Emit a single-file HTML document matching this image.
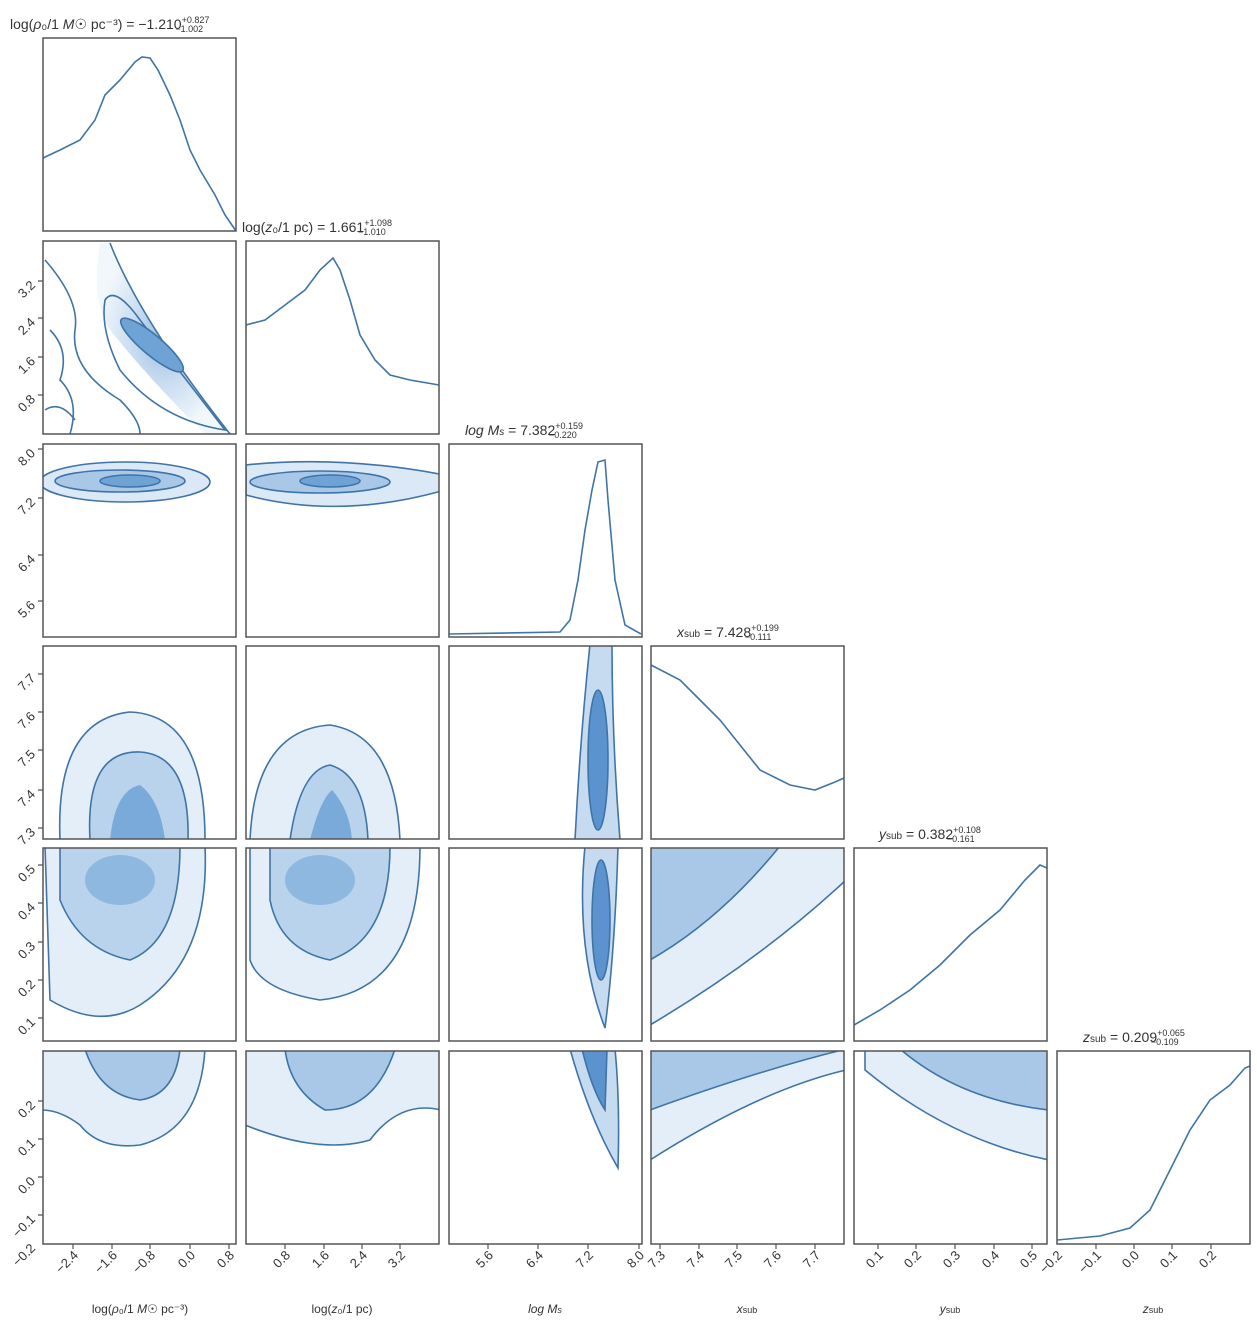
<!DOCTYPE html>
<html><head><meta charset="utf-8"><style>
body{margin:0;background:#fff}
svg{display:block}
text{font-family:"Liberation Sans",sans-serif;fill:#333}
</style></head><body>
<svg width="1257" height="1333" viewBox="0 0 1257 1333" xmlns="http://www.w3.org/2000/svg">
<defs>
<radialGradient id="g" cx="50%" cy="50%" r="50%"><stop offset="0" stop-color="#5b93cf"/><stop offset="0.5" stop-color="#a9c8e8"/><stop offset="1" stop-color="#eaf2fa"/></radialGradient>
<clipPath id="cp">
<rect x="43" y="241" width="193" height="193"/>
<rect x="43" y="444" width="193" height="193"/><rect x="246" y="444" width="193" height="193"/>
<rect x="43" y="646" width="193" height="193"/><rect x="246" y="646" width="193" height="193"/><rect x="449" y="646" width="193" height="193"/>
<rect x="43" y="848" width="193" height="193"/><rect x="246" y="848" width="193" height="193"/><rect x="449" y="848" width="193" height="193"/><rect x="651" y="848" width="193" height="193"/>
<rect x="43" y="1051" width="193" height="193"/><rect x="246" y="1051" width="193" height="193"/><rect x="449" y="1051" width="193" height="193"/><rect x="651" y="1051" width="193" height="193"/><rect x="854" y="1051" width="193" height="193"/>
</clipPath>
</defs>
<g fill="none" stroke="#3f74a8" stroke-width="1.6">
<path d="M43,158 L60,150 L80,140 L95,120 L105,95 L120,80 L135,62 L142,57 L150,58 L158,70 L170,95 L180,120 L190,150 L200,170 L215,195 L225,215 L236,231"/>
<path d="M246,325 L265,320 L285,305 L305,290 L320,270 L333,258 L340,270 L350,300 L360,335 L375,360 L390,375 L410,380 L439,385"/>
<path d="M449,634 L560,632 L570,620 L578,580 L585,530 L592,490 L598,462 L605,460 L608,500 L615,580 L625,625 L641,634"/>
<path d="M651,665 L680,680 L700,700 L720,720 L740,745 L760,770 L790,785 L815,790 L835,782 L844,778"/>
<path d="M854,1025 L880,1010 L910,990 L940,965 L970,935 L1000,910 L1025,880 L1040,865 L1047,868"/>
<path d="M1057,1240 L1100,1236 L1130,1228 L1150,1210 L1170,1170 L1190,1130 L1210,1100 L1230,1085 L1245,1068 L1250,1066"/>
</g>
<g stroke="#3f74a8" stroke-width="1.6" clip-path="url(#cp)">
<path d="M110,243 Q140,320 230,434 L205,434 Q150,380 110,330 Q90,300 100,243 Z" fill="url(#g)" opacity="0.6" stroke="none"/>
<path d="M110,243 Q140,320 230,434" fill="none"/>
<path d="M45,260 Q80,300 75,330 Q70,370 120,400 Q140,420 140,434" fill="none"/>
<path d="M105,300 Q115,285 140,320 L225,430 Q160,420 120,370 Q100,330 105,300 Z" fill="none"/>
<ellipse cx="152" cy="345" rx="40" ry="10" transform="rotate(40 152 345)" fill="#6fa3d6"/>
<path d="M50,330 Q70,350 60,380 Q80,400 70,434 M45,410 Q60,400 75,420" fill="none"/>
<ellipse cx="125" cy="482" rx="85" ry="20" fill="#dbe8f5"/>
<ellipse cx="120" cy="481" rx="65" ry="11" fill="#a9c8e8"/>
<ellipse cx="130" cy="481" rx="30" ry="6" fill="#6fa3d6"/>
<path d="M246,465 Q340,455 445,475 L445,490 Q340,520 246,495 Z" fill="#dbe8f5"/>
<ellipse cx="320" cy="482" rx="70" ry="11" fill="#a9c8e8"/>
<ellipse cx="330" cy="481" rx="30" ry="6" fill="#6fa3d6"/>
<path d="M60,840 Q55,720 130,712 Q205,715 205,840 Z" fill="#e3eef8"/>
<path d="M90,840 Q85,750 140,752 Q190,755 188,840 Z" fill="#b9d3ed"/>
<path d="M110,840 Q115,790 140,785 Q160,800 165,840 Z" fill="#7aaada" stroke="none"/>
<path d="M250,840 Q255,730 330,725 Q395,735 400,840 Z" fill="#e3eef8"/>
<path d="M290,840 Q300,770 330,765 Q365,775 368,840 Z" fill="#b9d3ed"/>
<path d="M310,840 Q320,800 332,790 Q350,810 352,840 Z" fill="#7aaada" stroke="none"/>
<path d="M590,644 Q580,740 575,840 L620,840 Q612,740 612,644 Z" fill="#c7dbf0"/>
<ellipse cx="598" cy="760" rx="10" ry="70" fill="#5b93cf"/>
<path d="M45,846 L205,846 Q210,960 140,1005 Q100,1030 50,1000 Z" fill="#e3eef8"/>
<path d="M60,846 L180,846 Q180,940 130,960 Q80,950 60,900 Z" fill="#b9d3ed"/>
<ellipse cx="120" cy="880" rx="35" ry="25" fill="#8fb8e0" stroke="none"/>
<path d="M250,846 L420,846 Q420,990 320,1000 Q260,990 250,960 Z" fill="#e3eef8"/>
<path d="M270,846 L390,846 Q390,940 330,960 Q280,950 270,900 Z" fill="#b9d3ed"/>
<ellipse cx="320" cy="880" rx="35" ry="25" fill="#8fb8e0" stroke="none"/>
<path d="M585,846 Q575,950 605,1028 Q615,950 618,846 Z" fill="#c7dbf0"/>
<ellipse cx="601" cy="920" rx="9" ry="60" fill="#5b93cf"/>
<path d="M650,846 L846,846 L846,880 Q760,960 650,1025 Z" fill="#e3eef8"/>
<path d="M650,846 L780,846 Q720,920 650,960 Z" fill="#a9c8e8"/>
<path d="M42,1049 L205,1049 Q200,1130 140,1145 Q100,1150 80,1125 Q60,1110 42,1110 Z" fill="#e3eef8"/>
<path d="M85,1049 L180,1049 Q175,1095 140,1100 Q100,1095 85,1049 Z" fill="#a9c8e8"/>
<path d="M245,1049 L441,1049 L441,1110 Q400,1100 370,1140 Q320,1155 245,1125 Z" fill="#e3eef8"/>
<path d="M285,1049 L395,1049 Q375,1110 325,1110 Q290,1090 285,1049 Z" fill="#a9c8e8"/>
<path d="M570,1049 Q590,1120 618,1168 Q620,1100 615,1049 Z" fill="#c7dbf0"/>
<path d="M582,1049 Q592,1090 605,1110 L607,1049 Z" fill="#5b93cf"/>
<path d="M650,1049 L846,1049 L846,1070 Q760,1090 650,1160 Z" fill="#e3eef8"/>
<path d="M650,1049 L846,1049 Q760,1070 650,1110 Z" fill="#a9c8e8"/>
<path d="M865,1049 L1049,1049 L1049,1160 Q950,1140 865,1070 Z" fill="#e3eef8"/>
<path d="M900,1049 L1049,1049 L1049,1110 Q960,1100 900,1049 Z" fill="#a9c8e8"/>
</g>
<g fill="none" stroke="#555" stroke-width="1.5">
<rect x="43" y="38" width="193" height="193"/>
<rect x="43" y="241" width="193" height="193"/><rect x="246" y="241" width="193" height="193"/>
<rect x="43" y="444" width="193" height="193"/><rect x="246" y="444" width="193" height="193"/><rect x="449" y="444" width="193" height="193"/>
<rect x="43" y="646" width="193" height="193"/><rect x="246" y="646" width="193" height="193"/><rect x="449" y="646" width="193" height="193"/><rect x="651" y="646" width="193" height="193"/>
<rect x="43" y="848" width="193" height="193"/><rect x="246" y="848" width="193" height="193"/><rect x="449" y="848" width="193" height="193"/><rect x="651" y="848" width="193" height="193"/><rect x="854" y="848" width="193" height="193"/>
<rect x="43" y="1051" width="193" height="193"/><rect x="246" y="1051" width="193" height="193"/><rect x="449" y="1051" width="193" height="193"/><rect x="651" y="1051" width="193" height="193"/><rect x="854" y="1051" width="193" height="193"/><rect x="1057" y="1051" width="193" height="193"/>
</g>
<!-- ticks -->
<g stroke="#555" stroke-width="1.2">
<path d="M38,281H43M38,318H43M38,357H43M38,395H43M38,449H43M38,498H43M38,555H43M38,601H43M38,674H43M38,712H43M38,750H43M38,790H43M38,828H43M38,865H43M38,903H43M38,942H43M38,980H43M38,1018H43M38,1101H43M38,1139H43M38,1177H43M38,1215H43"/>
<path d="M73,1244V1249M112,1244V1249M150,1244V1249M190,1244V1249M229,1244V1249M285,1244V1249M324,1244V1249M362,1244V1249M400,1244V1249M488,1244V1249M538,1244V1249M588,1244V1249M639,1244V1249M660,1244V1249M699,1244V1249M737,1244V1249M776,1244V1249M815,1244V1249M878,1244V1249M916,1244V1249M955,1244V1249M994,1244V1249M1032,1244V1249M1096,1244V1249M1134,1244V1249M1172,1244V1249M1211,1244V1249"/>
</g>
<g font-size="14">
<text x="10" y="29">log(<tspan font-style="italic">ρ</tspan>₀/1 <tspan font-style="italic">M</tspan>☉ pc⁻³) = −1.210<tspan font-size="9" dy="-6">+0.827</tspan><tspan font-size="9" dx="-34" dy="9">−1.002</tspan></text>
<text x="242" y="232">log(<tspan font-style="italic">z</tspan>₀/1 pc) = 1.661<tspan font-size="9" dy="-6">+1.098</tspan><tspan font-size="9" dx="-34" dy="9">−1.010</tspan></text>
<text x="465" y="435"><tspan font-style="italic">log M</tspan><tspan font-size="10" font-style="italic">s</tspan> = 7.382<tspan font-size="9" dy="-6">+0.159</tspan><tspan font-size="9" dx="-34" dy="9">−0.220</tspan></text>
<text x="677" y="637"><tspan font-style="italic">x</tspan><tspan font-size="10">sub</tspan> = 7.428<tspan font-size="9" dy="-6">+0.199</tspan><tspan font-size="9" dx="-34" dy="9">−0.111</tspan></text>
<text x="879" y="839"><tspan font-style="italic">y</tspan><tspan font-size="10">sub</tspan> = 0.382<tspan font-size="9" dy="-6">+0.108</tspan><tspan font-size="9" dx="-34" dy="9">−0.161</tspan></text>
<text x="1083" y="1042"><tspan font-style="italic">z</tspan><tspan font-size="10">sub</tspan> = 0.209<tspan font-size="9" dy="-6">+0.065</tspan><tspan font-size="9" dx="-34" dy="9">−0.109</tspan></text>
</g>
<g font-size="13" text-anchor="end">
<text transform="translate(36,286) rotate(-45)">3.2</text>
<text transform="translate(36,323) rotate(-45)">2.4</text>
<text transform="translate(36,362) rotate(-45)">1.6</text>
<text transform="translate(36,400) rotate(-45)">0.8</text>
<text transform="translate(36,454) rotate(-45)">8.0</text>
<text transform="translate(36,503) rotate(-45)">7.2</text>
<text transform="translate(36,560) rotate(-45)">6.4</text>
<text transform="translate(36,606) rotate(-45)">5.6</text>
<text transform="translate(36,679) rotate(-45)">7.7</text>
<text transform="translate(36,717) rotate(-45)">7.6</text>
<text transform="translate(36,755) rotate(-45)">7.5</text>
<text transform="translate(36,795) rotate(-45)">7.4</text>
<text transform="translate(36,833) rotate(-45)">7.3</text>
<text transform="translate(36,870) rotate(-45)">0.5</text>
<text transform="translate(36,908) rotate(-45)">0.4</text>
<text transform="translate(36,947) rotate(-45)">0.3</text>
<text transform="translate(36,985) rotate(-45)">0.2</text>
<text transform="translate(36,1023) rotate(-45)">0.1</text>
<text transform="translate(36,1106) rotate(-45)">0.2</text>
<text transform="translate(36,1144) rotate(-45)">0.1</text>
<text transform="translate(36,1182) rotate(-45)">0.0</text>
<text transform="translate(36,1220) rotate(-45)">−0.1</text>
<text transform="translate(36,1249) rotate(-45)">−0.2</text>
</g>
<g font-size="13" text-anchor="end">
<text transform="translate(79,1256) rotate(-45)">−2.4</text>
<text transform="translate(118,1256) rotate(-45)">−1.6</text>
<text transform="translate(156,1256) rotate(-45)">−0.8</text>
<text transform="translate(196,1256) rotate(-45)">0.0</text>
<text transform="translate(235,1256) rotate(-45)">0.8</text>
<text transform="translate(291,1256) rotate(-45)">0.8</text>
<text transform="translate(330,1256) rotate(-45)">1.6</text>
<text transform="translate(368,1256) rotate(-45)">2.4</text>
<text transform="translate(406,1256) rotate(-45)">3.2</text>
<text transform="translate(494,1256) rotate(-45)">5.6</text>
<text transform="translate(544,1256) rotate(-45)">6.4</text>
<text transform="translate(594,1256) rotate(-45)">7.2</text>
<text transform="translate(645,1256) rotate(-45)">8.0</text>
<text transform="translate(666,1256) rotate(-45)">7.3</text>
<text transform="translate(705,1256) rotate(-45)">7.4</text>
<text transform="translate(743,1256) rotate(-45)">7.5</text>
<text transform="translate(782,1256) rotate(-45)">7.6</text>
<text transform="translate(821,1256) rotate(-45)">7.7</text>
<text transform="translate(884,1256) rotate(-45)">0.1</text>
<text transform="translate(922,1256) rotate(-45)">0.2</text>
<text transform="translate(961,1256) rotate(-45)">0.3</text>
<text transform="translate(1000,1256) rotate(-45)">0.4</text>
<text transform="translate(1038,1256) rotate(-45)">0.5</text>
<text transform="translate(1063,1256) rotate(-45)">−0.2</text>
<text transform="translate(1102,1256) rotate(-45)">−0.1</text>
<text transform="translate(1140,1256) rotate(-45)">0.0</text>
<text transform="translate(1178,1256) rotate(-45)">0.1</text>
<text transform="translate(1217,1256) rotate(-45)">0.2</text>
</g>
<g font-size="12" text-anchor="middle">
<text x="140" y="1313">log(<tspan font-style="italic">ρ</tspan>₀/1 <tspan font-style="italic">M</tspan>☉ pc⁻³)</text>
<text x="342" y="1313">log(<tspan font-style="italic">z</tspan>₀/1 pc)</text>
<text x="545" y="1313" font-style="italic">log M<tspan font-size="9">s</tspan></text>
<text x="747" y="1313" font-style="italic">x<tspan font-size="9" font-style="normal">sub</tspan></text>
<text x="950" y="1313" font-style="italic">y<tspan font-size="9" font-style="normal">sub</tspan></text>
<text x="1153" y="1313" font-style="italic">z<tspan font-size="9" font-style="normal">sub</tspan></text>
</g>
</svg>
</body></html>
